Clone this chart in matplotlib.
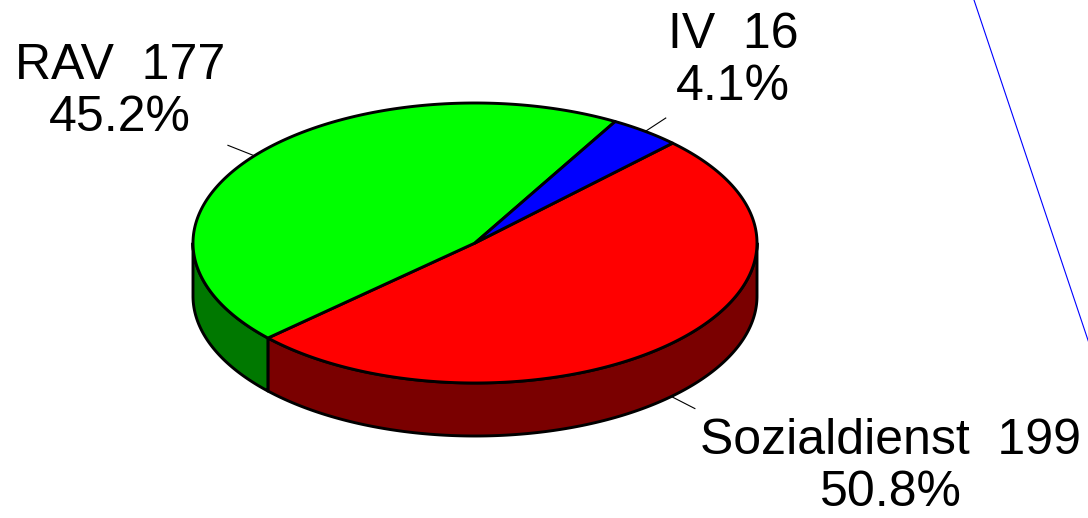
import numpy as np
import matplotlib.pyplot as plt
from matplotlib.patches import Polygon
from matplotlib.lines import Line2D

plt.rcParams['font.family'] = ['Liberation Sans', 'DejaVu Sans']

# data
labels = ['Sozialdienst', 'RAV', 'IV']
counts = [199, 177, 16]
top_colors = ['#ff0000', '#00ff00', '#0000ff']
side_colors = ['#7a0000', '#007800', '#00007a']

# layout of the 3d pie (pixel units)
cx, cy = 475, 243
rx, ry = 282, 140
depth = 53
start = 45.5
label_pos = [(891, 467), (120, 92), (733, 61)]

fig = plt.figure(figsize=(10.88, 5.18), dpi=100)
ax = fig.add_axes([0, 0, 1, 1])
ax.set_xlim(0, 1088)
ax.set_ylim(518, 0)
ax.axis('off')


def arc(t0, t1, r=1.0, dz=0.0, n=200):
    t = np.radians(np.linspace(t0, t1, n))
    return np.column_stack([cx + r * rx * np.cos(t), cy - r * ry * np.sin(t) + dz])


total = sum(counts)
fracs = [c / total for c in counts]
bounds = []
a = start
for f in fracs:
    bounds.append((a - 360 * f, a))  # clockwise
    a -= 360 * f

# sides (front half only)
for (lo, hi), col in zip(bounds, side_colors):
    for f0, f1 in [(-180, 0), (180, 360), (540, 720)]:
        s0, s1 = max(lo, f0), min(hi, f1)
        if s1 <= s0:
            continue
        topa = arc(s0, s1)
        bota = arc(s1, s0, dz=depth)
        ax.add_patch(Polygon(np.vstack([topa, bota]), closed=True, fc=col,
                             ec='black', lw=2.1, joinstyle='round'))

# tops
for (lo, hi), col in zip(bounds, top_colors):
    pts = np.vstack([[cx, cy], arc(lo, hi)])
    ax.add_patch(Polygon(pts, closed=True, fc=col, ec='black', lw=2.1,
                         joinstyle='round'))

# leader lines and labels
for (lo, hi), name, c, f, pos in zip(bounds, labels, counts, fracs, label_pos):
    mid = (lo + hi) / 2
    dz = depth if np.sin(np.radians(mid)) < 0 else 0
    p0 = arc(mid, mid, r=1.0, dz=dz, n=1)[0]
    p1 = arc(mid, mid, r=1.12, dz=dz, n=1)[0]
    ax.plot([p0[0], p1[0]], [p0[1], p1[1]], color='black', lw=0.8)
    ax.text(pos[0], pos[1], '%s  %d\n%.1f%%' % (name, c, f * 100),
            ha='center', va='center', fontsize=36, linespacing=1.15)

# stray blue line at the right edge
fig.add_artist(Line2D([974 / 1088, 1100 / 1088], [1, 1 - 376 / 518],
                      color='blue', lw=0.8))

fig.savefig('out.png', dpi=100)
